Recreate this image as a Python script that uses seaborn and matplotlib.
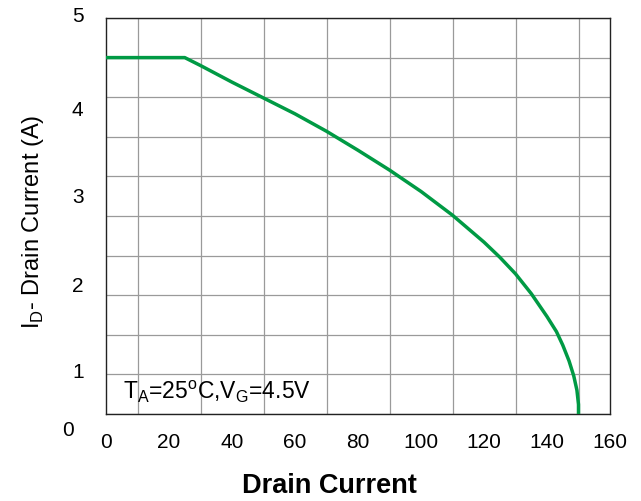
import matplotlib
matplotlib.use("Agg")
import matplotlib.pyplot as plt
import matplotlib.transforms as mtransforms
import numpy as np
import pandas as pd
import seaborn as sns

# Derating curve: drain current vs. drain sweep
drain_x = [0, 25, 30, 40, 50, 60, 70, 80, 90, 100, 110, 120, 125, 130, 135, 140,
           143, 145, 147, 148.5, 149.5, 150, 150]
drain_i = [4.5, 4.5, 4.40, 4.19, 3.99, 3.79, 3.57, 3.33, 3.08, 2.81, 2.51, 2.17, 1.98,
           1.77, 1.52, 1.23, 1.04, 0.87, 0.67, 0.48, 0.30, 0.12, 0.0]

x_ticks = [0, 20, 40, 60, 80, 100, 120, 140, 160]
y_tick_labels = ["0", "1", "2", "3", "4", "5"]
# vertical placement of the printed y numbers (data units) and their x offset
y_label_pos = [-0.19, 0.54, 1.62, 2.75, 3.85, 5.03]
y_label_x = [-0.076, -0.056, -0.056, -0.056, -0.056, -0.056]

sns.set_theme(style="white")
plt.rcParams["font.family"] = ["Liberation Sans", "DejaVu Sans"]
plt.rcParams["mathtext.fontset"] = "custom"
plt.rcParams["mathtext.rm"] = "Liberation Sans"

df = pd.DataFrame({"x": drain_x, "i": drain_i})

fig = plt.figure(figsize=(6.41, 5.02), dpi=100)
ax = fig.add_axes([106 / 641, 87 / 502, 504 / 641, 396 / 502])

sns.lineplot(data=df, x="x", y="i", sort=False, estimator=None, color="#009A44",
             linewidth=2.5, ax=ax, zorder=3)

ax.set_xlim(0, 160)
ax.set_ylim(0, 5)

ax.set_xticks(x_ticks)
ax.set_xticks(np.arange(0, 161, 10), minor=True)
ax.set_yticks(np.arange(0, 5.01, 0.5), minor=True)
ax.set_yticks([])
ax.tick_params(axis="x", which="both", length=0, pad=13, labelsize=15, colors="black")
ax.tick_params(axis="y", which="both", length=0)
ax.grid(which="minor", color="#9a9a9a", linewidth=0.9)
ax.grid(which="major", visible=False)
ax.set_axisbelow(True)

for sp in ax.spines.values():
    sp.set_color("#222222")
    sp.set_linewidth(1.0)

trans = mtransforms.blended_transform_factory(ax.transAxes, ax.transData)
for lab, yp, xp in zip(y_tick_labels, y_label_pos, y_label_x):
    ax.text(xp, yp, lab, transform=trans, ha="center", va="center",
            fontsize=15, color="black", clip_on=False)

ax.set_xlabel("")
ax.set_ylabel("")
ax.text(-0.145, 0.487, r"I$_\mathregular{D}$- Drain Current (A)", transform=ax.transAxes,
        rotation=90, ha="center", va="center", fontsize=17, color="black")
ax.text(0.444, -0.18, "Drain Current", transform=ax.transAxes, ha="center",
        va="center", fontsize=19.5, fontweight="bold", color="black")

ax.text(0.034, 0.04, r"T$_\mathregular{A}$=25$^\mathregular{o}$C,V$_\mathregular{G}$=4.5V",
        transform=ax.transAxes, ha="left", va="baseline", fontsize=16.5, color="black")

fig.savefig("out.png", dpi=100)
